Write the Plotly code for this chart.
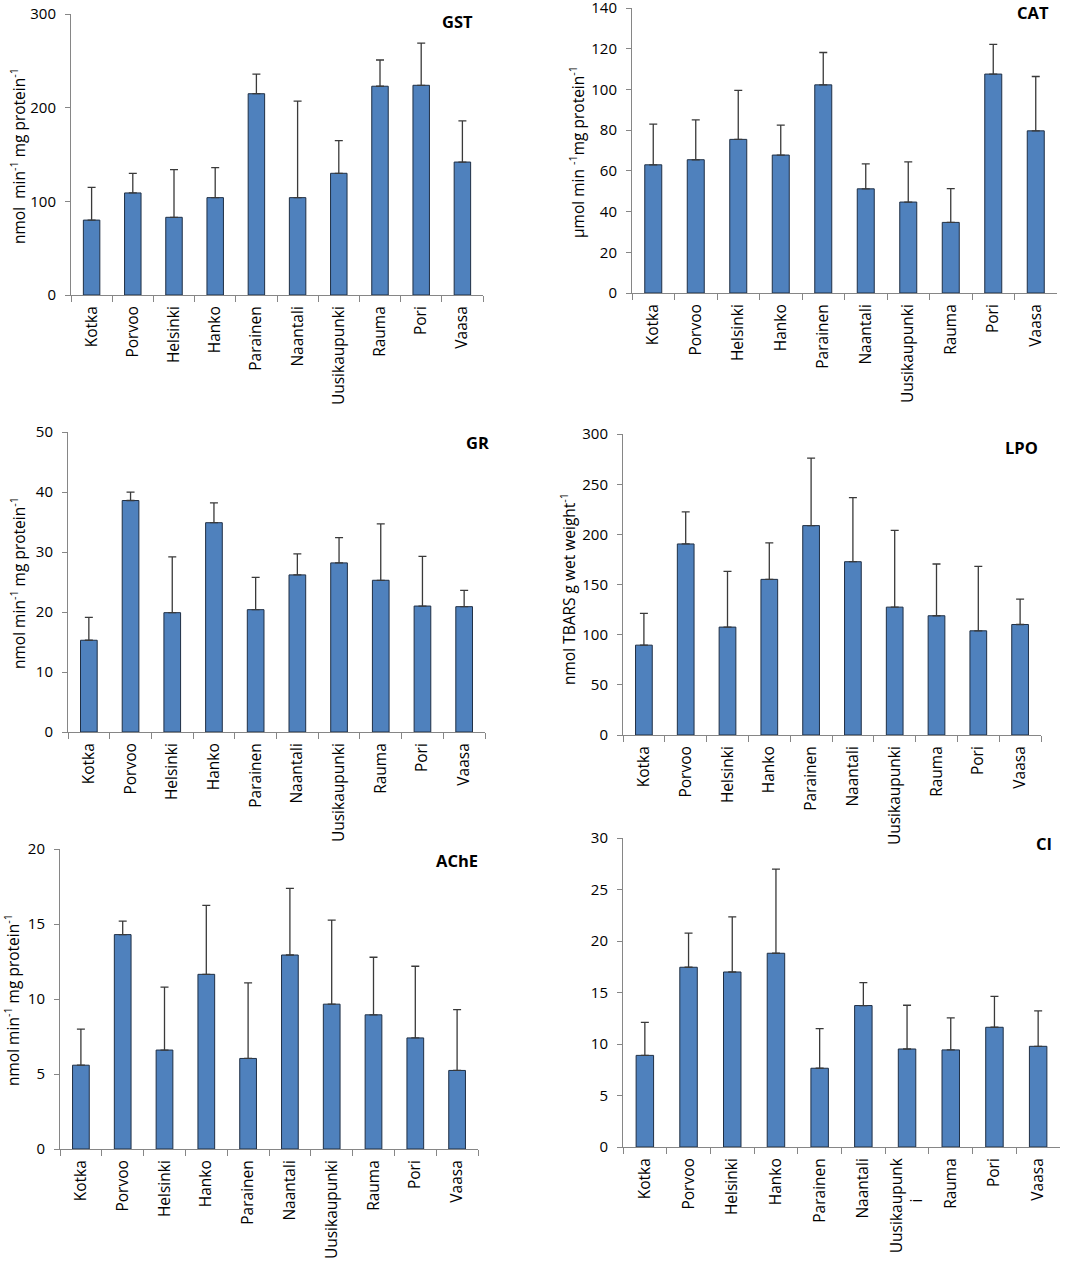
import plotly.graph_objects as go

# sites along the coast, west to east order as in the figure
sites = ["Kotka", "Porvoo", "Helsinki", "Hanko", "Parainen",
         "Naantali", "Uusikaupunki", "Rauma", "Pori", "Vaasa"]
# the CI panel wraps the long name, with the stray "i" sitting mid-label
ci_sites = sites[:6] + ["Uusikaupunk<br>i" + "\u00a0" * 10] + sites[7:]

# means and (upper) error bars
gst_mean = [80, 109, 83, 104, 215, 104, 130, 223, 224, 142]
gst_sd = [35, 21, 51, 32, 21, 103, 35, 28, 45, 44]

cat_mean = [63, 65.5, 75.5, 67.8, 102.3, 51.2, 44.7, 34.7, 107.6, 79.7]
cat_sd = [20, 19.6, 24.1, 14.7, 15.9, 12.3, 19.7, 16.6, 14.6, 26.7]

gr_mean = [15.3, 38.6, 19.9, 34.9, 20.4, 26.2, 28.2, 25.3, 21.0, 20.9]
gr_sd = [3.8, 1.4, 9.3, 3.3, 5.4, 3.5, 4.2, 9.4, 8.3, 2.7]

lpo_mean = [89.6, 190.5, 107.6, 155.2, 208.8, 172.8, 127.5, 118.9, 103.9, 110.2]
lpo_sd = [31.6, 31.9, 55.6, 36.3, 67.2, 64, 76.5, 51.6, 64.3, 25.3]

ache_mean = [5.59, 14.3, 6.6, 11.65, 6.04, 12.94, 9.66, 8.95, 7.41, 5.24]
ache_sd = [2.41, 0.9, 4.2, 4.6, 5.04, 4.44, 5.61, 3.84, 4.78, 4.06]

ci_mean = [8.9, 17.46, 17.0, 18.82, 7.65, 13.74, 9.52, 9.43, 11.63, 9.78]
ci_sd = [3.2, 3.31, 5.35, 8.17, 3.85, 2.23, 4.25, 3.11, 3.01, 3.44]

W, H = 1084, 1263
FONT = "Open Sans, Arial, sans-serif"
AXIS_GREY = "#868686"

# name, labels, mean, sd, y max, dtick, plot box in px (x0, x1, ytop, ybottom), y title, title pos
panels = [
    ("GST", sites, gst_mean, gst_sd, 300, 100, (71, 483, 14, 295),
     "nmol  min<sup>-1</sup> mg protein<sup>-1</sup>", (18, 156), (457, 21)),
    ("CAT", sites, cat_mean, cat_sd, 140, 20, (632, 1057, 8, 293),
     "µmol min <sup>-1</sup>mg protein<sup>-1</sup>", (577, 152), (1033, 13)),
    ("GR", sites, gr_mean, gr_sd, 50, 10, (68, 485, 432, 732),
     "nmol min<sup>-1</sup> mg protein<sup>-1</sup>", (18, 583), (477, 442)),
    ("LPO", sites, lpo_mean, lpo_sd, 300, 50, (623, 1041, 434, 735),
     "nmol TBARS g wet weight<sup>-1</sup>", (568, 589), (1021, 447)),
    ("AChE", sites, ache_mean, ache_sd, 20, 5, (60, 478, 849, 1149),
     "nmol min<sup>-1</sup> mg protein<sup>-1</sup>", (12, 1000), (457, 860)),
    ("CI", ci_sites, ci_mean, ci_sd, 30, 5, (623, 1060, 838, 1147),
     None, None, (1044, 843)),
]

fig = go.Figure()
annotations = []
layout = {}

for i, (name, labels, mean, sd, ymax, dtick, box, ytitle, ypos, tpos) in enumerate(panels):
    n = "" if i == 0 else str(i + 1)
    x0, x1, yt, yb = box
    fig.add_trace(go.Bar(
        x=labels, y=mean, width=0.4,
        marker=dict(color="#4F81BD", line=dict(color="#1F2F45", width=1)),
        error_y=dict(type="data", array=sd, arrayminus=[0] * len(sd), symmetric=False,
                     color="#3a3a3a", thickness=1.3, width=4),
        xaxis="x" + n, yaxis="y" + n, showlegend=False,
    ))
    layout["xaxis" + n] = dict(
        domain=[x0 / W, x1 / W], anchor="y" + n, type="category", automargin=False,
        tickson="boundaries", ticks="outside", ticklen=6, tickcolor=AXIS_GREY,
        showline=True, linecolor=AXIS_GREY, linewidth=1, showgrid=False,
        tickangle=-90, ticklabelstandoff=4, ticklabeloverflow="allow",
        tickfont=dict(family=FONT, size=15.5, color="black"),
    )
    layout["yaxis" + n] = dict(
        domain=[1 - yb / H, 1 - yt / H], anchor="x" + n,
        range=[0, ymax * 1.0005], tick0=0, dtick=dtick, automargin=False,
        ticks="outside", ticklen=5, tickcolor=AXIS_GREY, ticklabelstandoff=6,
        ticklabeloverflow="allow",
        showline=True, linecolor=AXIS_GREY, linewidth=1, showgrid=False, zeroline=False,
        tickfont=dict(family=FONT, size=15, color="black"),
    )
    annotations.append(dict(
        text="<b>%s</b>" % name, x=tpos[0] / W, y=1 - tpos[1] / H,
        xref="paper", yref="paper", xanchor="center", yanchor="middle", showarrow=False,
        font=dict(family=FONT, size=16.5, color="black"),
    ))
    if ytitle:
        annotations.append(dict(
            text=ytitle, x=ypos[0] / W, y=1 - ypos[1] / H, textangle=-90,
            xref="paper", yref="paper", xanchor="center", yanchor="middle", showarrow=False,
            font=dict(family=FONT, size=15.5, color="black"),
        ))

fig.update_layout(
    width=W, height=H, margin=dict(l=0, r=0, t=0, b=0, autoexpand=False),
    paper_bgcolor="white", plot_bgcolor="white",
    annotations=annotations, bargap=0.6, **layout,
)

# drop the default page margin so the figure sits at the window's corner
fig.write_html("out.html", config={"displayModeBar": False},
               post_script="document.body.style.margin = '0px';")
